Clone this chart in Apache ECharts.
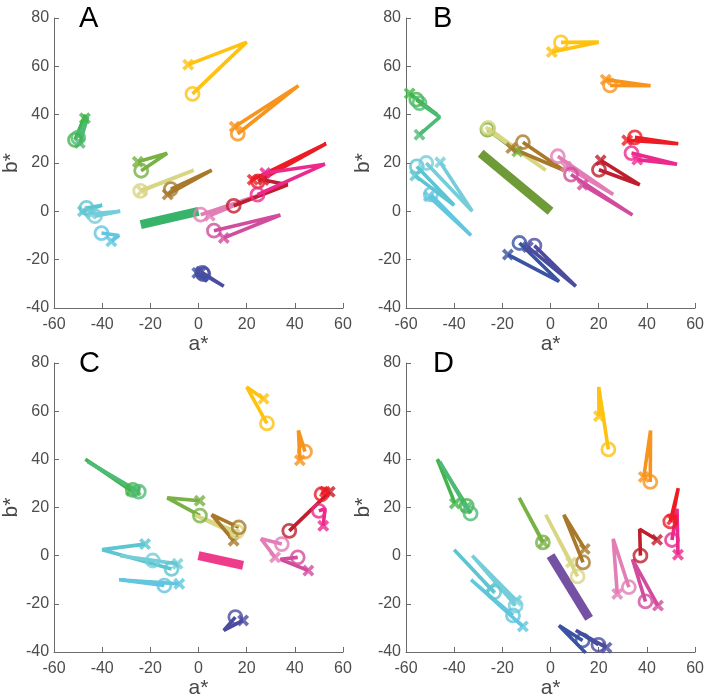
<!DOCTYPE html>
<html>
<head>
<meta charset="utf-8">
<script src="https://cdn.jsdelivr.net/npm/echarts@6/dist/echarts.min.js"></script>
<style>
html,body{margin:0;padding:0;background:#fff;}
#chart{width:707px;height:700px;}
</style>
</head>
<body>
<div id="chart"></div>
<script>
// ---------- data ----------
const panelLetters = ['A', 'B', 'C', 'D'];
const xTicks = [-60, -40, -20, 0, 20, 40, 60];
const yTicks = [-40, -20, 0, 20, 40, 60, 80];
const glyphNames = ['cyan1','cyan2','cyan3','green1','green2','olive','khaki','brown','blue1','blue2','lightpink','magenta','darkred','red','hotpink','orange','yellow'];
// common end point of each glyph's two strokes
const targets = [[-40,2.5],[-32.5,0],[-33,-10],[-47,40],[-46,39],[-13,24],[-2,17],[5.5,17],[3.5,-29],[10.5,-31],[26,7],[34,-1.5],[37,11],[53,28],[52.5,19.5],[41.5,52],[20,70]];
// circle positions per panel
const circlesA = [[-46.5,1.4],[-43,-2],[-40.3,-9],[-51.3,29.6],[-50,30.5],[-23.8,16.8],[-24.2,8.5],[-11.5,9.2],[1.6,-25.5],[2,-26],[0.9,-1.4],[6.4,-8],[14.6,2.3],[24.7,12.4],[24.5,6.9],[16.3,32.1],[-2.5,48.6]];
const crossesA = [[-48,0],[-44.5,-1],[-36.2,-12.4],[-47.2,38.5],[-49.3,28.3],[-25.2,20.5],[-23.5,8.5],[-12.8,7],[-0.5,-25.5],[1,-25],[4.7,-1.8],[10.5,-11],[27,13],[22.5,13.1],[27.7,15.9],[15,35],[-4.3,60.7]];
const circlesB = [[-55.5,18.6],[-51.6,20],[-49.7,7],[-55.7,46.2],[-54.4,44.8],[-26.2,33.8],[-25.9,34.5],[-11.5,28.6],[-12.9,-13.1],[-6.7,-14.2],[3,22.8],[8.5,15.2],[20.1,17.2],[35,30.6],[33.6,24.1],[24.7,52.1],[4.3,69.9]];
const crossesB = [[-56.2,14.8],[-45.8,20.3],[-50.5,6.2],[-58.5,48.8],[-54.4,31.7],[-13.8,24.8],[-25,33],[-16.3,26.2],[-17.7,-17.9],[-9.4,-14.8],[6.4,18.6],[13.3,11],[20.8,21.1],[31.8,29.4],[36,21.4],[22.9,54.5],[0.5,65.9]];
const circlesC = [[-11.2,-5.5],[-19,-2],[-14.2,-12.4],[-27.3,27.3],[-24.8,26.6],[0.6,16.6],[16,10],[16.7,11.7],null,[15.3,-25.5],[34.6,4.8],[41.2,-0.7],[37.7,10.3],[51.1,25.5],[50,18.6],[44.2,43.2],[28.4,54.9]];
const crossesC = [[-22.2,4.8],[-8.7,-3.4],[-8,-11.7],[-28,27],[-26,27],[0.5,22.8],[15,9],[14.6,6.2],null,[18.5,-26.9],[31.8,-0.7],[45.6,-6.2],[54.5,26.5],[52.5,26.5],[51.8,12.4],[42.1,39.6],[27,65.2]];
const circlesD = [[-23.4,-15.2],[-14.5,-20.7],[-15.6,-24.8],[-34.8,20.7],[-33.2,17.5],[-3.2,5.5],[11.2,-8.6],[13.5,-2.8],[13.3,-35.2],[19.9,-37],[32.5,-13.1],[39.4,-19],[37.3,0],[49.7,14.2],[50.4,6.5],[41.4,30.6],[24,44.1]];
const crossesD = [[-25,-13.5],[-14.2,-18.6],[-11.5,-29.4],[-39.7,21.7],[-35,20],[-3,5.5],[8.5,-2.8],[14.2,2.8],[14.6,-40.4],[23.2,-38.2],[27.7,-15.9],[44.6,-20.7],[44.2,6.6],[50.5,15],[52.9,0.4],[38.7,32.7],[20.1,57.9]];
// thick reference bar from origin, per panel
const barsA = [[0,0],[-24,-5.5]];
const barsB = [[0,0],[-29,24]];
const barsC = [[0,0],[18.5,-4]];
const barsD = [[0,0],[16,-26]];

// ---------- styles ----------
const glyphColors = ['#5cc5d1','#74cdd8','#62c6de','#43b54b','#4dbb76','#78b244','#d8d682','#a8792b','#3a53a4','#4b4ca0','#e27db6','#d24c9e','#be1e2d','#ed1c24','#ec2a8e','#f7941d','#ffc20e'];
const barColors = ['#38b36a','#6e9a37','#ee3c8a','#7451a2'];
const gridPos = [[52,18],[406,18],[52,363],[406,363]];
const FONT = 'Liberation Sans, Arial, Helvetica, sans-serif';
const XPATH = 'path://M0,2.2 L2.2,0 L5,2.8 L7.8,0 L10,2.2 L7.2,5 L10,7.8 L7.8,10 L5,7.2 L2.2,10 L0,7.8 L2.8,5 Z';

const circles = [circlesA, circlesB, circlesC, circlesD];
const crosses = [crossesA, crossesB, crossesC, crossesD];
const bars = [barsA, barsB, barsC, barsD];

const grids = [], xAxes = [], yAxes = [], series = [], graphics = [];
gridPos.forEach((p, i) => {
  grids.push({left: p[0], top: p[1], width: 291, height: 290, containLabel: false});
  const axisCommon = {
    gridIndex: i, type: 'value', interval: 20,
    nameLocation: 'middle',
    nameTextStyle: {fontSize: 21, color: '#474747', fontFamily: FONT},
    axisLine: {show: true, onZero: false, lineStyle: {color: '#6b6b6b', width: 1}},
    axisTick: {show: true, inside: true, length: 5, lineStyle: {color: '#6b6b6b'}},
    axisLabel: {fontSize: 16, color: '#4d4d4d', fontFamily: FONT},
    splitLine: {show: false}
  };
  xAxes.push(Object.assign({}, axisCommon, {
    min: xTicks[0], max: xTicks[xTicks.length-1], name: 'a*', nameGap: 26,
    axisLabel: Object.assign({}, axisCommon.axisLabel, {margin: 9})
  }));
  yAxes.push(Object.assign({}, axisCommon, {
    min: yTicks[0], max: yTicks[yTicks.length-1], name: 'b*', nameGap: 31, nameRotate: 90,
    axisLabel: Object.assign({}, axisCommon.axisLabel, {margin: 5})
  }));
  // reference bar
  series.push({
    type: 'line', xAxisIndex: i, yAxisIndex: i, data: bars[i], symbol: 'none', z: 1,
    lineStyle: {color: barColors[i], width: 9, cap: 'butt'}, silent: true, animation: false
  });
  const circData = [], crossData = [];
  glyphNames.forEach((g, k) => {
    const c = circles[i][k], x = crosses[i][k], t = targets[k];
    if (!c || !x) return;
    series.push({
      type: 'line', xAxisIndex: i, yAxisIndex: i, data: [c, t, x], symbol: 'none', z: 2,
      lineStyle: {color: glyphColors[k], width: 3.6}, silent: true, animation: false
    });
    circData.push({value: c, itemStyle: {color: 'rgba(0,0,0,0)', borderColor: glyphColors[k], borderWidth: 2.8}});
    crossData.push({value: x, itemStyle: {color: glyphColors[k]}});
  });
  series.push({
    type: 'scatter', xAxisIndex: i, yAxisIndex: i, data: crossData, symbol: XPATH, symbolSize: 12, z: 3,
    silent: true, animation: false
  });
  series.push({
    type: 'scatter', xAxisIndex: i, yAxisIndex: i, data: circData, symbol: 'circle', symbolSize: 13, z: 4,
    silent: true, animation: false
  });
  graphics.push({
    type: 'text', left: p[0] + 27, top: p[1] - 14,
    style: {text: panelLetters[i], fontSize: 29, fill: '#000', fontFamily: FONT}
  });
});

const chart = echarts.init(document.getElementById('chart'), null, {renderer: 'canvas'});
chart.setOption({
  animation: false,
  backgroundColor: '#fff',
  grid: grids, xAxis: xAxes, yAxis: yAxes, series: series, graphic: graphics
});
</script>
</body>
</html>
